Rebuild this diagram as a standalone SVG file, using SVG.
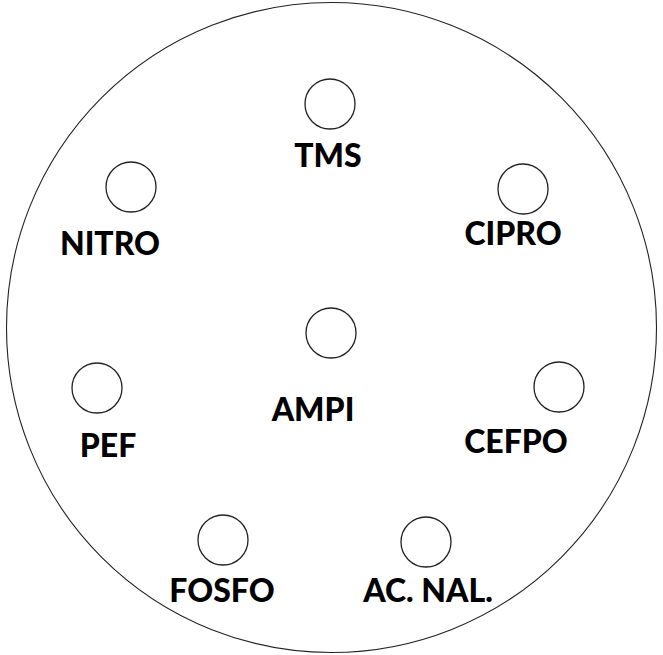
<svg xmlns="http://www.w3.org/2000/svg" width="663" height="655" viewBox="0 0 663 655">
<style>
.plate{fill:#fff;stroke:#222;stroke-width:1.1}
.disk{fill:#fff;stroke:#222;stroke-width:1.3}
.lbl{font-family:Lato,"Liberation Sans",Arial,sans-serif;font-weight:900;font-size:32px;fill:#000;text-anchor:middle}
</style>
<rect width="663" height="655" fill="#fff"/>
<g id="plate"><circle class="plate" cx="331.5" cy="327.5" r="325"/></g>
<g id="connectors"/>
<g id="TMS"><circle class="disk" cx="330" cy="104" r="25"/><text class="lbl" x="328" y="167">TMS</text></g>
<g id="NITRO"><circle class="disk" cx="131" cy="187" r="25"/><text class="lbl" x="110" y="255">NITRO</text></g>
<g id="CIPRO"><circle class="disk" cx="523" cy="189" r="25"/><text class="lbl" x="513" y="245">CIPRO</text></g>
<g id="AMPI"><circle class="disk" cx="331" cy="333" r="25"/><text class="lbl" x="313" y="421">AMPI</text></g>
<g id="PEF"><circle class="disk" cx="97" cy="388" r="25"/><text class="lbl" x="108" y="457">PEF</text></g>
<g id="CEFPO"><circle class="disk" cx="559" cy="387" r="25"/><text class="lbl" x="516" y="453">CEFPO</text></g>
<g id="FOSFO"><circle class="disk" cx="223" cy="540" r="25"/><text class="lbl" x="222" y="602">FOSFO</text></g>
<g id="ACNAL"><circle class="disk" cx="426" cy="542" r="25"/><text class="lbl" x="428" y="602">AC. NAL.</text></g>
</svg>
